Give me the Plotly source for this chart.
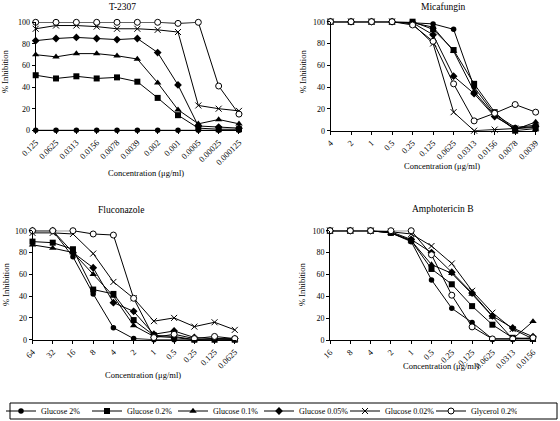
import plotly.graph_objects as go

series = ["Glucose 2%", "Glucose 0.2%", "Glucose 0.1%", "Glucose 0.05%", "Glucose 0.02%", "Glycerol 0.2%"]

t2307_conc = ["0.125", "0.0625", "0.0313", "0.0156", "0.0078", "0.0039", "0.002", "0.001", "0.0005", "0.00025", "0.000125"]
t2307_g2 = [0, 0, 0, 0, 0, 0, 0, 0, 0, 0, 0]
t2307_g02 = [51, 48, 50, 48, 49, 45, 30, 14, 2, 1, 1]
t2307_g01 = [70, 68, 71, 71, 69, 66, 44, 19, 6, 10, 6]
t2307_g005 = [83, 85, 86, 85, 84, 85, 72, 42, 4, 3, 2]
t2307_g002 = [94, 97, 97, 96, 94, 94, 93, 91, 23, 20, 18]
t2307_gly = [100, 100, 100, 100, 100, 100, 100, 99, 100, 41, 15]

mica_conc = ["4", "2", "1", "0.5", "0.25", "0.125", "0.0625", "0.0313", "0.0156", "0.0078", "0.0039"]
mica_g2 = [100, 100, 100, 100, 99, 98, 93, 40, 15, 3, 5]
mica_g02 = [100, 100, 100, 100, 100, 93, 74, 43, 17, 0, 2]
mica_g01 = [100, 100, 100, 100, 99, 95, 73, 36, 14, 1, 8]
mica_g005 = [100, 100, 100, 100, 99, 88, 50, 34, 13, 2, 4]
mica_g002 = [100, 100, 100, 100, 98, 80, 17, 0, 1, 2, 3]
mica_gly = [100, 100, 100, 100, 97, 82, 43, 9, 16, 24, 17]

fluc_conc = ["64", "32", "16", "8", "4", "2", "1", "0.5", "0.25", "0.125", "0.0625"]
fluc_g2 = [100, 100, 76, 42, 11, 1, 0, 0, 0, 0, 0]
fluc_g02 = [90, 89, 83, 46, 42, 18, 4, 3, 0, 0, 0]
fluc_g01 = [87, 84, 80, 60, 40, 13, 3, 2, 0, 1, 0]
fluc_g005 = [100, 100, 80, 66, 34, 26, 5, 8, 2, 1, 1]
fluc_g002 = [98, 98, 97, 79, 53, 38, 17, 20, 12, 16, 9]
fluc_gly = [100, 100, 100, 97, 96, 38, 2, 5, 1, 3, 1]

amph_conc = ["16", "8", "4", "2", "1", "0.5", "0.25", "0.125", "0.0625", "0.0313", "0.0156"]
amph_g2 = [100, 100, 100, 98, 90, 55, 29, 16, 1, 1, 1]
amph_g02 = [100, 100, 100, 98, 91, 65, 51, 31, 14, 2, 1]
amph_g01 = [100, 100, 100, 98, 91, 69, 61, 42, 21, 1, 17]
amph_g005 = [100, 100, 100, 99, 92, 80, 62, 43, 22, 11, 3]
amph_g002 = [100, 100, 100, 99, 97, 86, 70, 45, 25, 10, 1]
amph_gly = [100, 100, 100, 100, 100, 78, 41, 12, 1, 1, 2]

panels = [
    ("T-2307", t2307_conc, [t2307_g2, t2307_g02, t2307_g01, t2307_g005, t2307_g002, t2307_gly]),
    ("Micafungin", mica_conc, [mica_g2, mica_g02, mica_g01, mica_g005, mica_g002, mica_gly]),
    ("Fluconazole", fluc_conc, [fluc_g2, fluc_g02, fluc_g01, fluc_g005, fluc_g002, fluc_gly]),
    ("Amphotericin B", amph_conc, [amph_g2, amph_g02, amph_g01, amph_g005, amph_g002, amph_gly]),
]

W, H = 560, 421
B = 20            # bottom margin (legend sits below the plot area)
PH = H - B
FONT = "Liberation Serif, Times New Roman, serif"

def fx(px):
    return px / W

def fy(py):
    return (PH - py) / PH

# pixel boxes: x0, x1 (first/last category), ytop (100), ybottom (0)
boxes = [
    (35.7, 240.0, 22.3, 130.3),
    (330.5, 536.7, 21.7, 130.7),
    (32.5, 235.8, 230.7, 339.7),
    (330.0, 534.0, 230.7, 340.0),
]

markers = [
    dict(symbol="circle", size=5.5, color="black"),
    dict(symbol="square", size=6, color="black"),
    dict(symbol="triangle-up", size=6.5, color="black"),
    dict(symbol="diamond", size=6, color="black"),
    dict(symbol="x-thin", size=6, color="black", line=dict(color="black", width=1)),
    dict(symbol="circle", size=6, color="white", line=dict(color="black", width=1)),
]

fig = go.Figure()
layout = {}
for p, (title, conc, vals) in enumerate(panels):
    ax = "" if p == 0 else str(p + 1)
    x0, x1, yt, yb = boxes[p]
    idx = list(range(len(conc)))
    for s, name in enumerate(series):
        fig.add_trace(go.Scatter(
            x=idx, y=vals[s], mode="lines+markers", name=name,
            xaxis="x" + ax, yaxis="y" + ax,
            line=dict(color="black", width=1),
            marker=markers[s], cliponaxis=False,
            legendgroup=name, showlegend=(p == 0),
        ))
    layout["xaxis" + ax] = dict(
        domain=[fx(x0), fx(x1)], anchor="y" + ax, range=[0, 10.05],
        tickvals=idx, ticktext=conc, tickangle=-45,
        showline=True, linecolor="black", linewidth=1, ticks="outside", ticklen=3,
        tickcolor="black", showgrid=False, zeroline=False,
        tickfont=dict(family=FONT, size=8.5, color="black"),
    )
    layout["yaxis" + ax] = dict(
        domain=[fy(yb), fy(yt)], anchor="x" + ax, range=[0, 100],
        tickvals=[0, 20, 40, 60, 80, 100],
        showline=True, linecolor="black", linewidth=1, ticks="outside", ticklen=3,
        tickcolor="black", showgrid=False, zeroline=False,
        tickfont=dict(family=FONT, size=8, color="black"),
    )

ann = []
def a(text, px, py, size, angle=0):
    ann.append(dict(text=text, x=fx(px), y=fy(py), xref="paper", yref="paper",
                    showarrow=False, xanchor="center", yanchor="middle", textangle=angle,
                    font=dict(family=FONT, size=size, color="black")))

a("T-2307", 122, 6.5, 9.5)
a("Micafungin", 443, 6.5, 9.5)
a("Fluconazole", 121, 210, 9.5)
a("Amphotericin B", 442, 209, 9.5)
a("Concentration (μg/ml)", 146, 172.7, 8.5)
a("Concentration (μg/ml)", 442, 165.7, 8.5)
a("Concentration (μg/ml)", 143, 375, 8.5)
a("Concentration (μg/ml)", 441, 365.7, 8.5)
a("% Inhibition", 5, 72, 8.5, -90)
a("% Inhibition", 303, 72, 8.5, -90)
a("% Inhibition", 6, 285, 8.5, -90)
a("% Inhibition", 302, 285, 8.5, -90)

fig.update_layout(
    width=W, height=H, margin=dict(l=0, r=0, t=0, b=B, autoexpand=False),
    paper_bgcolor="white", plot_bgcolor="white",
    annotations=ann,
    shapes=[dict(type="rect", xref="paper", yref="paper", x0=fx(10), x1=fx(557),
                 y0=fy(419), y1=fy(403), line=dict(color="black", width=1))],
    legend=dict(orientation="h", x=fx(1), y=fy(411), xanchor="left", yanchor="middle",
                entrywidth=41, entrywidthmode="pixels", bgcolor="rgba(0,0,0,0)", borderwidth=0,
                font=dict(family=FONT, size=8, color="black"), tracegroupgap=0,
                itemwidth=30),
    **layout,
)

fig.write_html("out.html", config={"displayModeBar": False},
               post_script="document.body.style.margin='0';document.body.style.overflow='hidden';")
